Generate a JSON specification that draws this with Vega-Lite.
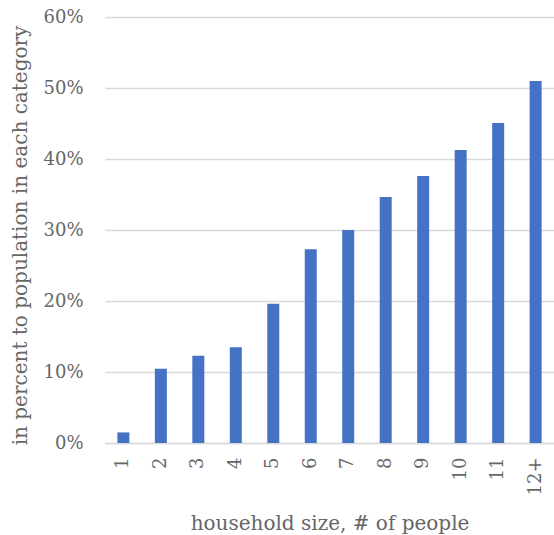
{
  "$schema": "https://vega.github.io/schema/vega-lite/v6.json",
  "autosize": "none",
  "width": 449,
  "height": 426,
  "padding": {"left": 105, "top": 17, "right": 0, "bottom": 92},
  "background": "white",
  "data": {
    "values": [
      {"size": "1", "pct": 0.0149},
      {"size": "2", "pct": 0.1045},
      {"size": "3", "pct": 0.123},
      {"size": "4", "pct": 0.135},
      {"size": "5", "pct": 0.196},
      {"size": "6", "pct": 0.273},
      {"size": "7", "pct": 0.300},
      {"size": "8", "pct": 0.3466},
      {"size": "9", "pct": 0.376},
      {"size": "10", "pct": 0.4127},
      {"size": "11", "pct": 0.4507},
      {"size": "12+", "pct": 0.510}
    ]
  },
  "config": {
    "view": {"stroke": null},
    "font": "DejaVu Serif",
    "axis": {
      "labelFont": "DejaVu Serif",
      "titleFont": "DejaVu Serif",
      "labelColor": "#666666",
      "titleColor": "#666666",
      "titleFontWeight": "normal",
      "domain": false,
      "ticks": false
    }
  },
  "mark": {"type": "bar", "color": "#4472C4"},
  "encoding": {
    "x": {
      "field": "size",
      "type": "ordinal",
      "sort": null,
      "scale": {"paddingInner": 0.68, "paddingOuter": 0.33},
      "axis": {
        "title": "household size, # of people",
        "titleFontSize": 20,
        "titleBaseline": "alphabetic",
        "titleY": 86,
        "labelAngle": -90,
        "labelFontSize": 18,
        "labelPadding": 14,
        "domain": true,
        "domainColor": "#d9d9d9",
        "domainWidth": 1.5
      }
    },
    "y": {
      "field": "pct",
      "type": "quantitative",
      "scale": {"domain": [0, 0.6]},
      "axis": {
        "title": "in percent to population in each category",
        "titleFontSize": 20,
        "titleX": -85,
        "titleY": 218,
        "titleBaseline": "middle",
        "format": ".0%",
        "values": [0, 0.1, 0.2, 0.3, 0.4, 0.5, 0.6],
        "labelFontSize": 18,
        "labelPadding": 22,
        "grid": true,
        "gridColor": "#d9d9d9",
        "gridWidth": 1.5
      }
    }
  }
}
